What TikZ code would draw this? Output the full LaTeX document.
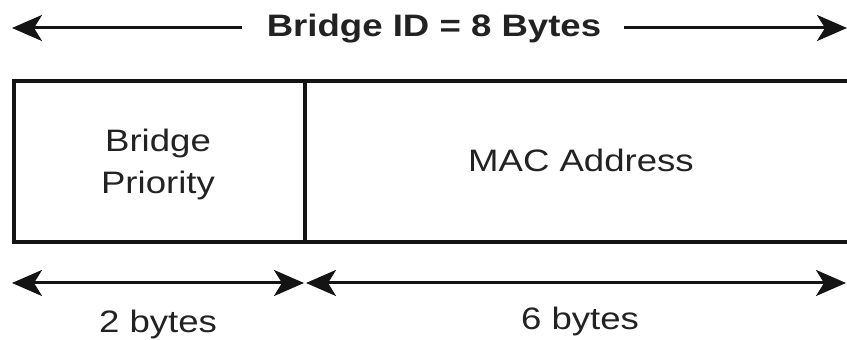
\documentclass[tikz,border=0pt]{standalone}
\usepackage{fontspec}
\setmainfont{Liberation Sans}
\usetikzlibrary{arrows.meta, positioning}
\definecolor{textdark}{RGB}{34,34,34}
\definecolor{linedark}{RGB}{20,20,20}
\tikzset{
  fieldtext/.style={font=\fontsize{31}{42}\selectfont, text=textdark,
    align=center, inner sep=0pt, xscale=1.18, transform shape},
  titletext/.style={fieldtext, font=\fontsize{31}{42}\selectfont\bfseries},
  frame/.style={line width=4pt, draw=linedark},
  sizearrow/.style={line width=3pt, draw=linedark,
    {Stealth[length=30pt,width=26pt,inset=8pt]}-{Stealth[length=30pt,width=26pt,inset=8pt]}},
  halfarrow/.style={line width=3pt, draw=linedark,
    -{Stealth[length=30pt,width=26pt,inset=8pt]}},
}

\begin{document}
\begin{tikzpicture}[x=1pt, y=1pt]
\useasboundingbox (0,0) rectangle (847,340);

%% ─── TITLE ──────────────────────────────────────────────────
\node[titletext] (title) at (434,311) {Bridge ID = 8 Bytes};
\coordinate (idleft) at (12,312);
\coordinate (idright) at (847,312);
\draw[halfarrow] ([xshift=-25pt]title.west |- idleft) -- (idleft);
\draw[halfarrow] ([xshift=23pt]title.east |- idright) -- (idright);

%% ─── FIELDS ─────────────────────────────────────────────────
\coordinate (boxtl) at (14,259);
\coordinate (boxbl) at (14,98);
\coordinate (divtop) at (305,259);
\coordinate (divbot) at (305,98);
\coordinate (boxtr) at (847,259);
\coordinate (boxbr) at (847,98);
\draw[frame] (boxtr) -- (boxtl) -- (boxbl) -- (boxbr);
\draw[frame] (divtop) -- (divbot);

\node[fieldtext] (priority) at (158,176) {Bridge\\Priority};
\node[fieldtext] (mac) at (581,180) {MAC Address};

%% ─── SIZES ──────────────────────────────────────────────────
\coordinate (twoleft) at (12,57);
\coordinate (tworight) at (304,57);
\coordinate (sixleft) at (306,57);
\coordinate (sixright) at (846,57);
\draw[sizearrow] (twoleft) -- (tworight);
\draw[sizearrow] (sixleft) -- (sixright);

\node[fieldtext] (twobytes) at (158,16) {2 bytes};
\node[fieldtext] (sixbytes) at (580,19) {6 bytes};

\end{tikzpicture}
\end{document}
